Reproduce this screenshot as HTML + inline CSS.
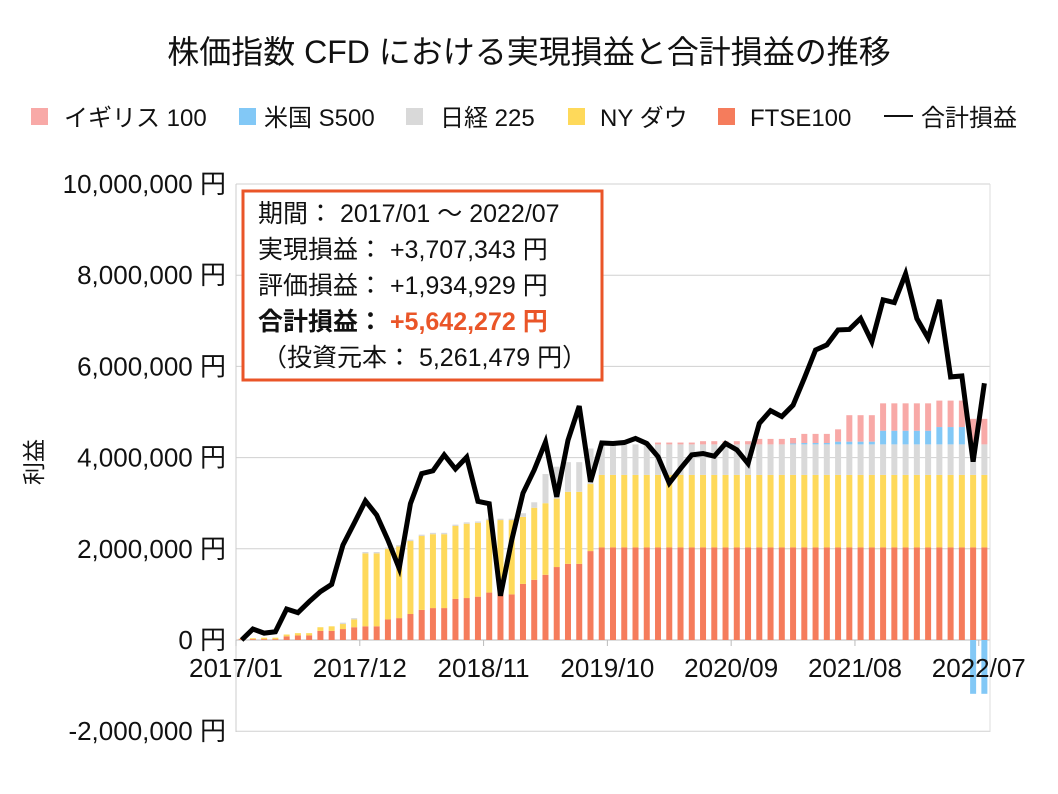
<!DOCTYPE html>
<html><head><meta charset="utf-8"><style>
body{margin:0;background:#fff;}
svg{display:block;font-family:"Liberation Sans","Noto Sans CJK JP",sans-serif;}
</style></head><body>
<svg id="chart" width="1058" height="794" viewBox="0 0 1058 794">
<text x="529" y="63" text-anchor="middle" font-size="32" fill="#111">株価指数 CFD における実現損益と合計損益の推移</text>
<g id="legend" font-size="24" fill="#111">
<rect x="31" y="108" width="17" height="17" fill="#f8a9a7"/><text x="64" y="126">イギリス 100</text>
<rect x="239" y="108" width="17" height="17" fill="#82c8f6"/><text x="264" y="126">米国 S500</text>
<rect x="406" y="108" width="17" height="17" fill="#d9d9d9"/><text x="440" y="126">日経 225</text>
<rect x="568" y="108" width="17" height="17" fill="#fed95a"/><text x="600" y="126">NY ダウ</text>
<rect x="718" y="108" width="17" height="17" fill="#f57c5c"/><text x="750" y="126">FTSE100</text>
<line x1="884" y1="116" x2="913" y2="116" stroke="#111" stroke-width="2"/><text x="921" y="126">合計損益</text>
</g>
<text transform="translate(42,462) rotate(-90)" text-anchor="middle" font-size="23" fill="#111">利益</text>
<g id="grid"></g><g id="bars"></g><g id="line"></g><g id="axes"></g>
<g>
<rect x="243" y="191" width="359" height="189" fill="#fff" stroke="#ea5528" stroke-width="3"/>
<text x="258" y="222" font-size="25" fill="#111">期間： 2017/01 ～ 2022/07</text>
<text x="258" y="258" font-size="25" fill="#111">実現損益： +3,707,343 円</text>
<text x="258" y="294" font-size="25" fill="#111">評価損益： +1,934,929 円</text>
<text x="258" y="330" font-size="25" fill="#111" font-weight="bold">合計損益： <tspan fill="#ea5528">+5,642,272 円</tspan></text>
<text x="262" y="366" font-size="25" fill="#111">（投資元本： 5,261,479 円）</text>
</g>
</svg>
<script>
const months=["2017/01","2017/12","2018/11","2019/10","2020/09","2021/08","2022/07"];
const yTicks=[-2,0,2,4,6,8,10];
function rep(v,n){return Array(n).fill(v);}
const ftse=[0.02,0.02,0.02,0.02,0.08,0.1,0.1,0.2,0.2,0.24,0.28,0.3,0.3,0.45,0.48,0.57,0.66,0.7,0.7,0.9,0.92,0.95,1.04,1.0,1.0,1.23,1.32,1.43,1.6,1.67,1.67,1.95,2.03].concat(rep(2.03,34));
const nydow=[0.01,0.02,0.03,0.03,0.04,0.05,0.05,0.08,0.1,0.11,0.17,1.6,1.6,1.55,1.57,1.6,1.62,1.62,1.62,1.6,1.63,1.62,1.59,1.63,1.63,1.47,1.58,1.57,1.5,1.58,1.58,1.47,1.59].concat(rep(1.59,34));
const nikkei=rep(0,9).concat(rep(0.03,16),[0.08,0.12,0.64,0.7,0.65,0.65,0.78,0.68],rep(0.67,34));
const us500=rep(0,49).concat([0.02,0.03,0.03,0.03,0.06,0.06,0.06,0.06,0.3,0.3,0.3,0.3,0.3,0.38,0.38,0.38,-1.18,-1.18]);
const uk100=rep(0,36).concat(rep(0.04,5),rep(0.07,5),rep(0.12,4),[0.2,0.2,0.2,0.27,0.58,0.58,0.58,0.6,0.6,0.6,0.6,0.6,0.58,0.58,0.58,0.56,0.56]);
const total=[0,0.24,0.15,0.18,0.68,0.6,0.84,1.06,1.22,2.08,2.56,3.05,2.74,2.19,1.57,2.99,3.65,3.71,4.06,3.75,4.01,3.04,2.99,0.97,2.19,3.22,3.73,4.34,3.14,4.38,5.13,3.47,4.32,4.31,4.33,4.42,4.31,4.02,3.44,3.76,4.06,4.09,4.03,4.31,4.17,3.87,4.75,5.03,4.9,5.15,5.74,6.36,6.47,6.8,6.81,7.05,6.54,7.46,7.4,8.03,7.05,6.62,7.46,5.77,5.79,3.91,5.63];
const N=total.length, X0=236, X1=990, step=(X1-X0)/N;
const y=v=>640-v*45.6; const xc=i=>X0+(i+0.5)*step;
const NS="http://www.w3.org/2000/svg";
function mk(tag,attrs,parent){const e=document.createElementNS(NS,tag);for(const k in attrs)e.setAttribute(k,attrs[k]);parent.appendChild(e);return e;}
const grid=document.getElementById('grid'),axes=document.getElementById('axes'),bars=document.getElementById('bars');
yTicks.forEach(t=>{
 const g=mk('line',{x1:X0,x2:X1,y1:y(t),y2:y(t),stroke:t===0?'#bbb':'#d0d0d0','stroke-width':1},grid);
 
 
 const lb=mk('text',{x:226,y:y(t)+9,'text-anchor':'end','font-size':26,fill:'#111'},axes);
 lb.textContent=t===0?'0 円':(t.toLocaleString('en-US')+',000,000 円');
 
 
});
const va=mk('line',{x1:X0,x2:X0,y1:184,y2:732,stroke:'#ccc'},grid);


const vr=mk('line',{x1:X1,x2:X1,y1:184,y2:732,stroke:'#ddd'},grid);


months.forEach((m,k)=>{
 const tx=X0+k*11*step;
 const tk=mk('line',{x1:tx,x2:tx,y1:640,y2:646,stroke:'#bbb'},axes);
 
 
 const lb=mk('text',{x:tx,y:677,'text-anchor':'middle','font-size':26,fill:'#111'},axes);
 lb.textContent=m;
 
 
});
const series=[[ftse,'#f57c5c','ftse100'],[nydow,'#fed95a','nydow'],[nikkei,'#d9d9d9','nikkei225'],[us500,'#82c8f6','us500'],[uk100,'#f8a9a7','uk100']];
const bw=6;
for(let i=0;i<N;i++){
 let pos=0,neg=0;
 series.forEach(([arr,col,nm])=>{
  const v=arr[i]; if(!v)return;
  let a,b; if(v>0){a=pos;b=pos+v;pos=b;}else{a=neg+v;b=neg;neg=a;}
  const r=mk('rect',{x:xc(i)-bw/2,y:y(b),width:bw,height:Math.max(0,y(a)-y(b)),fill:col},bars);
  
  
 });
}
const pl=mk('polyline',{points:total.map((v,i)=>xc(i)+','+y(v)).join(' '),fill:'none',stroke:'#000','stroke-width':5,'stroke-linejoin':'miter'},document.getElementById('line'));


</script>
</body></html>
